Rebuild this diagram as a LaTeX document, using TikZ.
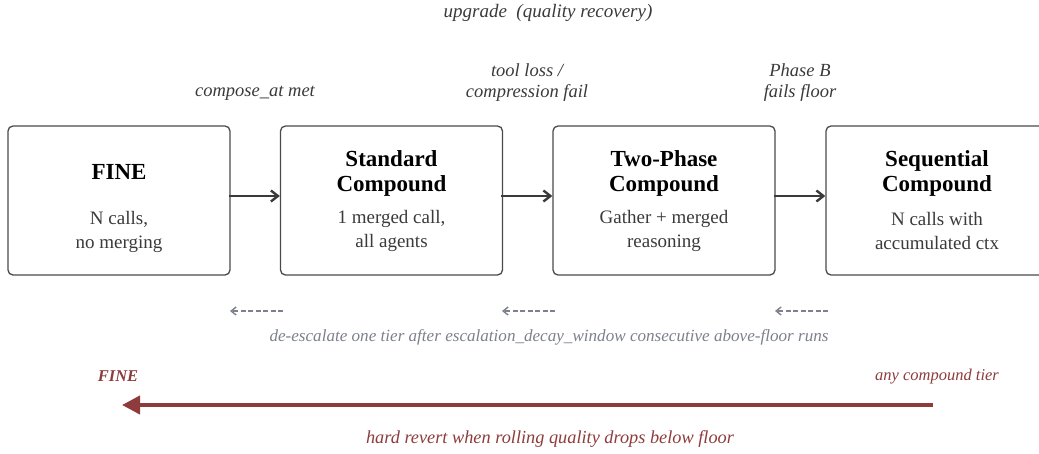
\documentclass[tikz,border=0pt]{standalone}
\usepackage{fontspec}
\setmainfont{Liberation Serif}
\usetikzlibrary{arrows.meta}
\definecolor{boxline}{HTML}{4A4A4A}
\definecolor{arrdark}{HTML}{3A3A3A}
\definecolor{dgray}{HTML}{7D818C}
\definecolor{revred}{HTML}{8E3B3B}
\definecolor{txt}{HTML}{3A3A3A}
\tikzset{
  tier/.style={draw=boxline, line width=1.3pt, rounded corners=5pt, minimum width=222pt, minimum height=149pt, inner sep=0pt},
  ttl/.style={font=\fontsize{23}{25}\selectfont\bfseries, align=center, text=black, inner sep=0pt},
  sub/.style={font=\fontsize{19}{24}\selectfont, align=center, text=txt, inner sep=0pt},
  lbl/.style={font=\fontsize{18.5}{21}\selectfont\itshape, align=center, text=txt, inner sep=0pt},
  esc/.style={draw=arrdark, line width=2.4pt, -{Straight Barb[length=7pt,width=11pt]}},
  deesc/.style={draw=dgray, line width=1.4pt, dash pattern=on 5pt off 2.5pt, -{Straight Barb[length=5pt,width=8pt]}},
  gtxt/.style={font=\fontsize{17.1}{20}\selectfont\itshape, text=dgray, inner sep=0pt},
  rtxt/.style={font=\fontsize{16.5}{20}\selectfont\itshape, text=revred, inner sep=0pt},
  revert/.style={draw=revred, line width=4pt, -{Triangle[length=18pt,width=18pt]}}
}
\begin{document}
\begin{tikzpicture}[x=1pt,y=-1pt]
\useasboundingbox (0,0) rectangle (1039,453);
% boxes
\node[tier] (fine) at (119,200.5) {};
\node[tier] (std) at (391.5,200.5) {};
\node[tier] (two) at (664,200.5) {};
\node[tier] (seq) at (937,200.5) {};
% titles
\node[ttl] (t1) at (119,172) {FINE};
\node[ttl] (t2) at (391.5,173) {Standard\\Compound};
\node[ttl] (t3) at (664,173) {Two-Phase\\Compound};
\node[ttl] (t4) at (937,173) {Sequential\\Compound};
% subtitles
\node[sub] (s1) at (119,232) {N calls,\\no merging};
\node[sub] (s2) at (391.5,231) {1 merged call,\\all agents};
\node[sub] (s3) at (664,231) {Gather + merged\\reasoning};
\node[sub] (s4) at (937,231) {N calls with\\accumulated ctx};
% escalation arrows
\draw[esc] ([xshift=-2pt]fine.east |- 0,196) -- (std.west |- 0,196);
\draw[esc] ([xshift=-2pt]std.east |- 0,196) -- (two.west |- 0,196);
\draw[esc] ([xshift=-2pt]two.east |- 0,196) -- (seq.west |- 0,196);
% labels
\node[lbl, font=\fontsize{19}{21}\selectfont\itshape] (l0) at (548,13) {upgrade\ \ (quality recovery)};
\node[lbl] (l1) at (255,93) {compose\_at met};
\node[lbl] (l2) at (527,82.5) {tool loss /\\compression fail};
\node[lbl] (l3) at (800,82.5) {Phase B\\fails floor};
% de-escalation
\coordinate (d1a) at (283,311); \coordinate (d1b) at (230,311);
\coordinate (d2a) at (555,311); \coordinate (d2b) at (502,311);
\coordinate (d3a) at (828,311); \coordinate (d3b) at (775,311);
\draw[deesc] (d1a) -- (d1b);
\draw[deesc] (d2a) -- (d2b);
\draw[deesc] (d3a) -- (d3b);
\node[gtxt] (dtxt) at (549,337) {de-escalate one tier after escalation\_decay\_window consecutive above-floor runs};
% hard revert
\node[rtxt, font=\fontsize{16.5}{20}\selectfont\bfseries\itshape] (rf) at (118,376) {FINE};
\node[rtxt] (ra) at (937,377) {any compound tier};
\coordinate (rs) at (933,405);
\coordinate (re) at (122,405);
\draw[revert] (rs) -- (re);
\node[rtxt, font=\fontsize{18.3}{20}\selectfont\itshape] (rh) at (550,439) {hard revert when rolling quality drops below floor};
\end{tikzpicture}
\end{document}
